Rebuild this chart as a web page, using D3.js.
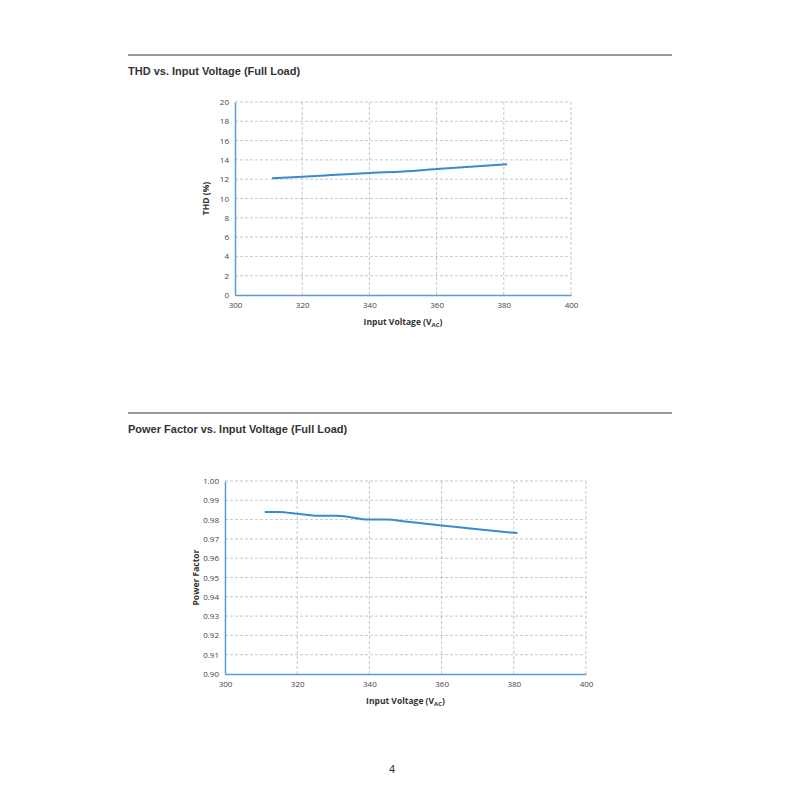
<!DOCTYPE html>
<html><head><meta charset="utf-8">
<script src="https://cdn.jsdelivr.net/npm/d3@7"></script>
<style>body{margin:0;background:#fff}</style></head>
<body><svg id="s" width="800" height="800"></svg>
<script>
const thdVoltage=[311,320,330,340,350,360,370,381];
const thdValues=[12.1,12.25,12.45,12.65,12.8,13.05,13.3,13.55];
const pfVoltage=[311,315,320,326,331,340,345,350,360,370,381];
const pfValues=[0.984,0.984,0.983,0.982,0.982,0.980,0.980,0.979,0.977,0.975,0.973];
const xTicks=[300,320,340,360,380,400];
const thdTicks=[0,2,4,6,8,10,12,14,16,18,20];
const pfTicks=[0.90,0.91,0.92,0.93,0.94,0.95,0.96,0.97,0.98,0.99,1.00];

const svg=d3.select("#s");
const F="Liberation Sans, Arial, sans-serif";
const FA="Open Sans, Lato, sans-serif";
function header(y,title){
  svg.append("line").attr("x1",128).attr("x2",672).attr("y1",y).attr("y2",y).attr("stroke","#333").attr("stroke-width",1.2);
  svg.append("text").attr("x",128).attr("y",y+20).text(title).attr("font-family",F).attr("font-weight","bold").attr("font-size",11).attr("fill","#333");
}
header(55,"THD vs. Input Voltage (Full Load)");
header(413,"Power Factor vs. Input Voltage (Full Load)");
svg.append("text").attr("x",392).attr("y",773).attr("text-anchor","middle").text("4").attr("font-family",F).attr("font-size",11).attr("fill","#333");

function chart(L,R,T,B,xs,ys,yDom,yTicks,fmt,ylab){
  const x=d3.scaleLinear().domain([300,400]).range([L,R]);
  const y=d3.scaleLinear().domain(yDom).range([B,T]);
  const g=svg.append("g");
  yTicks.slice(1).forEach(t=>g.append("line").attr("x1",L).attr("x2",R).attr("y1",y(t)).attr("y2",y(t)).attr("stroke","#b0b0b0").attr("stroke-width",0.7).attr("stroke-dasharray","3,2"));
  xTicks.slice(1).forEach(t=>g.append("line").attr("x1",x(t)).attr("x2",x(t)).attr("y1",T).attr("y2",B).attr("stroke","#b0b0b0").attr("stroke-width",0.7).attr("stroke-dasharray","3,2"));
  const ax=g.append("g").attr("transform",`translate(0,${B})`).call(d3.axisBottom(x).tickValues(xTicks).tickSize(0).tickPadding(7));
  const ay=g.append("g").attr("transform",`translate(${L},0)`).call(d3.axisLeft(y).tickValues(yTicks).tickFormat(fmt).tickSize(0).tickPadding(6));
  [ax,ay].forEach(a=>{a.select(".domain").attr("stroke","#5b9bd5").attr("stroke-width",1.5);a.selectAll("text").attr("font-family",FA).attr("font-size",8).attr("fill","#444");});
  g.append("path").datum(xs.map((v,i)=>[v,ys[i]])).attr("fill","none").attr("stroke","#3a8ad0").attr("stroke-width",2)
    .attr("d",d3.line().x(d=>x(d[0])).y(d=>y(d[1])).curve(d3.curveMonotoneX));
  const xl=g.append("text").attr("x",(L+R)/2).attr("y",B+30).attr("text-anchor","middle").attr("font-family",FA).attr("font-weight","bold").attr("font-size",8.5).attr("fill","#333");
  xl.append("tspan").text("Input Voltage (V");
  xl.append("tspan").text("AC").attr("font-size",6).attr("dy",2);
  xl.append("tspan").text(")").attr("dy",-2);
  g.append("text").attr("transform",`translate(${L-26},${(T+B)/2}) rotate(-90)`).attr("text-anchor","middle").attr("font-family",FA).attr("font-weight","bold").attr("font-size",8.5).attr("fill","#333").text(ylab);
}
chart(235,571,102,295,thdVoltage,thdValues,[0,20],thdTicks,d3.format("d"),"THD (%)");
chart(225,586,481,674,pfVoltage,pfValues,[0.90,1.00],pfTicks,d3.format(".2f"),"Power Factor");
</script></body></html>
